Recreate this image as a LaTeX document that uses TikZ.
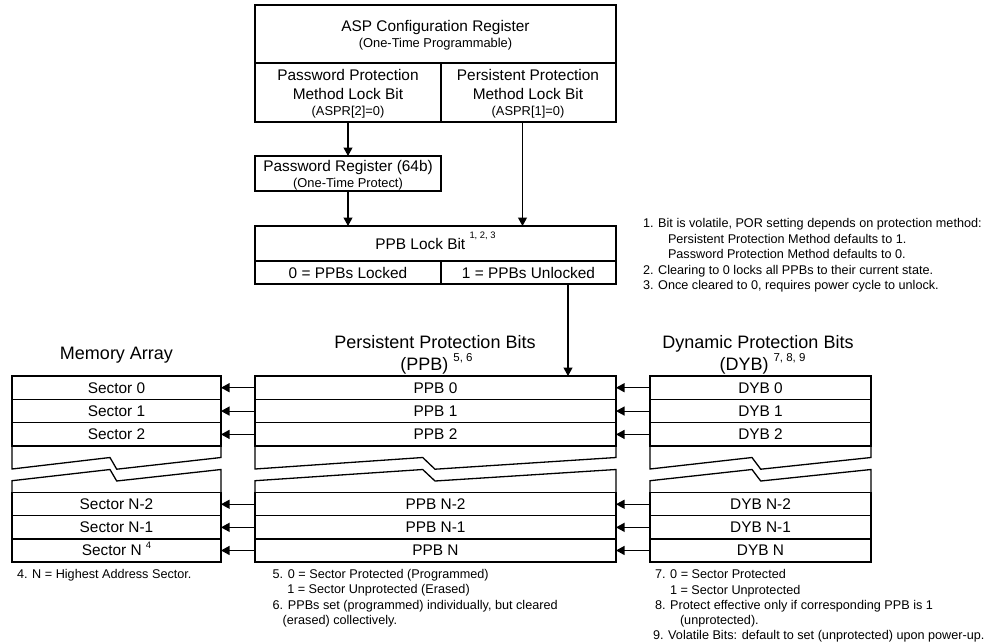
\documentclass[tikz,border=0pt]{standalone}
\usepackage{fontspec}
\setmainfont{Liberation Sans}
\usetikzlibrary{arrows.meta}
\newcommand{\FBig}{\fontsize{15.4pt}{18pt}\selectfont}
\newcommand{\FSmall}{\fontsize{12.87pt}{15.3pt}\selectfont}
\newcommand{\FNote}{\fontsize{12.65pt}{15.3pt}\selectfont}
\newcommand{\FTitle}{\fontsize{18pt}{22pt}\selectfont}
\newcommand{\FSup}{\fontsize{9.4pt}{10pt}\selectfont}
\newcommand{\FTSup}{\fontsize{11.5pt}{12pt}\selectfont}
\begin{document}
\begin{tikzpicture}[x=1pt,y=-1pt,
  cell/.style={draw, line width=1.3pt, inner sep=0pt, outer sep=0pt},
  row/.style={cell, font=\FBig, text height=11pt, text depth=0pt},
  scol/.style={row, minimum width=209pt},
  pcol/.style={row, minimum width=361pt},
  dcol/.style={row, minimum width=221pt},
  up/.style={minimum height=23.35pt},
  lo/.style={minimum height=23.1pt},
  lbl/.style={inner sep=0pt, outer sep=0pt, anchor=base},
  note/.style={font=\FNote, inner sep=0pt, outer sep=0pt, anchor=base west},
  arr/.style={line width=1.1pt, -{Triangle[length=8.5pt,width=9pt]}},
  brk/.style={line width=1.3pt, line join=miter}
]
\useasboundingbox (0,0) rectangle (990,643);

% ASP configuration register
\node[cell, minimum width=361pt, minimum height=58pt] (aspT) at (435.5,34) {};
\node[cell, minimum width=186pt, minimum height=59pt] (aspL) at (348,92.5) {};
\node[cell, minimum width=175pt, minimum height=59pt] (aspR) at (528.5,92.5) {};
\draw[line width=2.6pt] (aspT.north west) rectangle (aspR.south east);
\node[lbl, font=\FBig] (aspT1) at (435.5,31.7) {ASP Configuration Register};
\node[lbl, font=\FSmall] (aspT2) at (435.5,47.7) {(One-Time Programmable)};
\node[lbl, font=\FBig] (aspL1) at (348,80.3) {Password Protection};
\node[lbl, font=\FBig] (aspL2) at (348,99.5) {Method Lock Bit};
\node[lbl, font=\FSmall] (aspL3) at (348,115.3) {(ASPR[2]=0)};
\node[lbl, font=\FBig] (aspR1) at (528,80.3) {Persistent Protection};
\node[lbl, font=\FBig] (aspR2) at (528,99.5) {Method Lock Bit};
\node[lbl, font=\FSmall] (aspR3) at (528,115.3) {(ASPR[1]=0)};

% Password register
\node[cell, line width=1.5pt, minimum width=186pt, minimum height=35pt] (pr) at (348,173.5) {};
\node[lbl, font=\FBig] (pr1) at (348,171.2) {Password Register (64b)};
\node[lbl, font=\FSmall] (pr2) at (348,187.3) {(One-Time Protect)};

% PPB lock bit
\node[row, minimum width=361pt, minimum height=35pt] (lockT) at (435.5,243.5) {PPB Lock Bit \raisebox{11pt}{\FSup 1, 2, 3}};
\node[row, minimum width=186pt, minimum height=23pt] (lockL) at (348,272.5) {0 = PPBs Locked};
\node[row, minimum width=175pt, minimum height=23pt] (lockR) at (528.5,272.5) {1 = PPBs Unlocked};

% Titles
\node[lbl, font=\FTitle] (tMem) at (116.5,359.7) {Memory Array};
\node[lbl, font=\FTitle] (tPPB1) at (435,348.7) {Persistent Protection Bits};
\node[lbl, font=\FTitle] (tPPB2) at (436.5,370.7) {(PPB) \raisebox{9.5pt}{\FTSup 5, 6}};
\node[lbl, font=\FTitle] (tDYB1) at (758,348.7) {Dynamic Protection Bits};
\node[lbl, font=\FTitle] (tDYB2) at (762.5,370.7) {(DYB) \raisebox{9.5pt}{\FTSup 7, 8, 9}};

% Memory array rows
\node[scol, up] (s0) at (116.5,387.7) {Sector 0};
\node[scol, up] (s1) at (116.5,411.05) {Sector 1};
\node[scol, up] (s2) at (116.5,434.4) {Sector 2};
\node[scol, lo] (sN2) at (116.5,504.25) {Sector N-2};
\node[scol, lo] (sN1) at (116.5,527.35) {Sector N-1};
\node[scol, lo] (sN) at (116.5,550.45) {Sector N \raisebox{7.3pt}{\FSup 4}};

% PPB rows
\node[pcol, up] (p0) at (435.5,387.7) {PPB 0};
\node[pcol, up] (p1) at (435.5,411.05) {PPB 1};
\node[pcol, up] (p2) at (435.5,434.4) {PPB 2};
\node[pcol, lo] (pN2) at (435.5,504.25) {PPB N-2};
\node[pcol, lo] (pN1) at (435.5,527.35) {PPB N-1};
\node[pcol, lo] (pN) at (435.5,550.45) {PPB N};

% DYB rows
\node[dcol, up] (d0) at (760.5,387.7) {DYB 0};
\node[dcol, up] (d1) at (760.5,411.05) {DYB 1};
\node[dcol, up] (d2) at (760.5,434.4) {DYB 2};
\node[dcol, lo] (dN2) at (760.5,504.25) {DYB N-2};
\node[dcol, lo] (dN1) at (760.5,527.35) {DYB N-1};
\node[dcol, lo] (dN) at (760.5,550.45) {DYB N};

% Break shapes
\draw[brk] (s2.south west) -- (12,469) -- (110,457.5) -- (116.7,469.2) -- (221,457.5) -- (s2.south east);
\draw[brk] (sN2.north west) -- (12,480.7) -- (110,469.5) -- (116.7,481) -- (221,469.5) -- (sN2.north east);
\draw[brk] (p2.south west) -- (255,469) -- (422.7,457.5) -- (435,469.2) -- (616,457.5) -- (p2.south east);
\draw[brk] (pN2.north west) -- (255,480.7) -- (422.7,469.5) -- (435,481) -- (616,469.5) -- (pN2.north east);
\draw[brk] (d2.south west) -- (650,469) -- (752,457.5) -- (760.7,469.2) -- (871,457.5) -- (d2.south east);
\draw[brk] (dN2.north west) -- (650,480.7) -- (752,469.5) -- (760.7,481) -- (871,469.5) -- (dN2.north east);

% Connectors
\draw[arr] (aspL.south) -- (pr.north);
\draw[arr] (pr.south) -- (pr.south |- lockT.north);
\draw[arr] ([xshift=-6pt]aspR.south) -- ([xshift=-6pt]aspR.south |- lockT.north);
\draw[arr] ([xshift=39.5pt]lockR.south) -- ([xshift=39.5pt]lockR.south |- p0.north);
\foreach \i in {0,1,2,N2,N1,N}{
  \draw[arr] (p\i.west) -- (s\i.east);
  \draw[arr] (d\i.west) -- (p\i.east);
}

% Notes
\node[note] (n1a) at (643,227.7) {1. Bit is volatile, POR setting depends on protection method:};
\node[note] (n1b) at (668,243.2) {Persistent Protection Method defaults to 1.};
\node[note] (n1c) at (668,258.7) {Password Protection Method defaults to 0.};
\node[note] (n2) at (643,274.1) {2. Clearing to 0 locks all PPBs to their current state.};
\node[note] (n3) at (643,289.7) {3. Once cleared to 0, requires power cycle to unlock.};
\node[note] (n4) at (17,578.4) {4. N = Highest Address Sector.};
\node[note] (n5a) at (272.7,578.4) {5. 0 = Sector Protected (Programmed)};
\node[note] (n5b) at (287.3,593.5) {1 = Sector Unprotected (Erased)};
\node[note] (n6a) at (272.7,609.2) {6. PPBs set (programmed) individually, but cleared};
\node[note] (n6b) at (282.7,624.3) {(erased) collectively.};
\node[note] (n7a) at (655,578.9) {7. 0 = Sector Protected};
\node[note] (n7b) at (670,594.3) {1 = Sector Unprotected};
\node[note] (n8a) at (655,609.9) {8. Protect effective only if corresponding PPB is 1};
\node[note] (n8b) at (680,624.9) {(unprotected).};
\node[note] (n9) at (653,639.9) {9. Volatile Bits: default to set (unprotected) upon power-up.};
\end{tikzpicture}
\end{document}
